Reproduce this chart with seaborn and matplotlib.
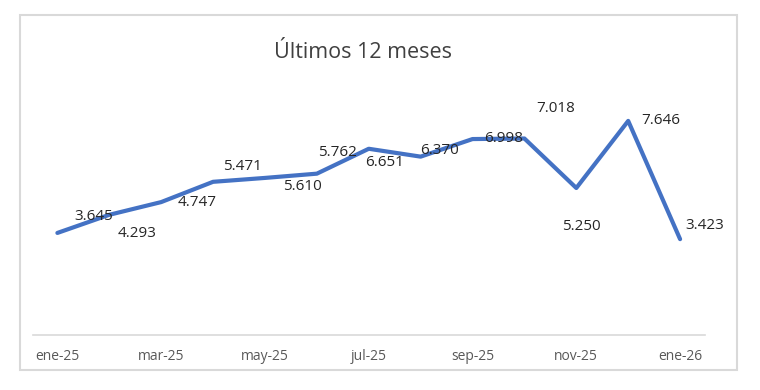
import matplotlib
matplotlib.use("Agg")
import matplotlib.pyplot as plt
from matplotlib.patches import Rectangle
import numpy as np
import pandas as pd
import seaborn as sns

# datos del gráfico
meses = ["ene-25", "feb-25", "mar-25", "abr-25", "may-25", "jun-25", "jul-25",
         "ago-25", "sep-25", "oct-25", "nov-25", "dic-25", "ene-26"]
valores = [3.645, 4.293, 4.747, 5.471, 5.610, 5.762, 6.651,
           6.370, 6.998, 7.018, 5.250, 7.646, 3.423]
etiquetas_eje = ["ene-25", "mar-25", "may-25", "jul-25", "sep-25", "nov-25", "ene-26"]
titulo = "Últimos 12 meses"

# desplazamiento de cada etiqueta (pixeles)
offsets = [(36, 16), (28, -19), (36, 0), (29, 15), (37, -9), (21, 21), (16, -14),
           (19, 6), (31, 1), (31, 30), (5, -39), (33, 0), (25, 14)]

df = pd.DataFrame({"mes": meses, "valor": valores})

sns.set_theme(style="white")
plt.rcParams['font.family'] = ['Open Sans', 'DejaVu Sans']

W, H = 760, 390
fig = plt.figure(figsize=(W / 100, H / 100), dpi=100)
ax = fig.add_axes([33 / W, (H - 335) / H, (705 - 33) / W, (335 - 83) / H])

sns.lineplot(data=df, x="mes", y="valor", ax=ax, color="#4472C4",
             linewidth=3, sort=False)

for i, (v, off) in enumerate(zip(valores, offsets)):
    ax.annotate(f"{v:.3f}", (i, v), xytext=off, textcoords="offset pixels",
                ha="center", va="center", fontsize=11, color="#262626")

ax.set_xlim(-0.47, 12.48)
ax.set_ylim(0, 9)
ax.set_xticks(range(0, 13, 2))
ax.set_xticklabels(etiquetas_eje, fontsize=10, color="#595959")
ax.tick_params(axis="x", length=0, pad=10)
ax.set_yticks([])
ax.set_xlabel("")
ax.set_ylabel("")
for s in ["top", "right", "left"]:
    ax.spines[s].set_visible(False)
ax.spines["bottom"].set_color("#D9D9D9")
ax.spines["bottom"].set_linewidth(1.2)

fig.text(363 / W, (H - 52) / H, titulo, ha="center", va="center",
         fontsize=15.5, color="#404040")

# marco exterior
fig.patches.append(Rectangle((20 / W, (H - 370) / H), (737 - 20) / W, (370 - 15) / H,
                             transform=fig.transFigure, fill=False,
                             edgecolor="#D9D9D9", linewidth=1.5))

fig.savefig("out.png", dpi=100)
